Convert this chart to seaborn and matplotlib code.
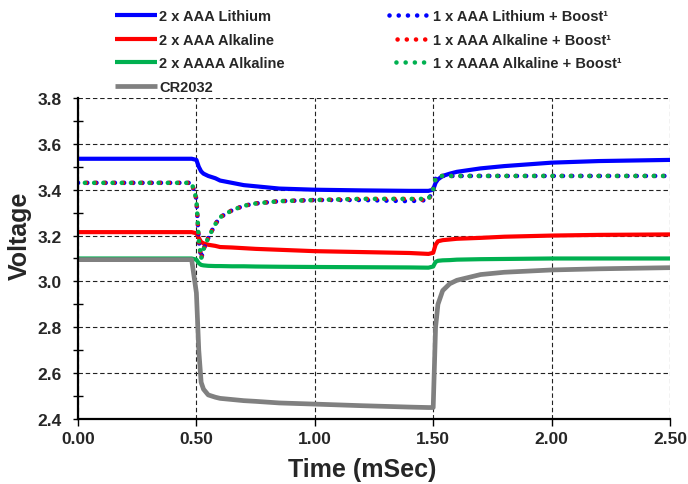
import matplotlib
matplotlib.use("Agg")
import matplotlib.pyplot as plt
from matplotlib.ticker import MultipleLocator, FormatStrFormatter
import seaborn as sns
import pandas as pd

# ---- data ----
time_ms = [0.00, 0.10, 0.20, 0.30, 0.40, 0.48, 0.50, 0.51, 0.52, 0.53, 0.55, 0.58,
           0.60, 0.65, 0.70, 0.75, 0.85, 1.00, 1.20, 1.40, 1.48, 1.50, 1.51, 1.52,
           1.54, 1.57, 1.60, 1.70, 1.80, 2.00, 2.20, 2.50]

aaa_lithium = [3.535, 3.535, 3.535, 3.535, 3.535, 3.535, 3.53, 3.50, 3.48, 3.47, 3.46, 3.45,
               3.44, 3.43, 3.42, 3.415, 3.405, 3.40, 3.397, 3.395, 3.395, 3.40, 3.43, 3.445,
               3.46, 3.47, 3.478, 3.493, 3.503, 3.518, 3.525, 3.53]

aaa_alkaline = [3.215, 3.215, 3.215, 3.215, 3.215, 3.215, 3.21, 3.19, 3.172, 3.166, 3.16, 3.155,
                3.15, 3.148, 3.145, 3.142, 3.138, 3.132, 3.128, 3.124, 3.12, 3.125, 3.16, 3.175,
                3.18, 3.183, 3.186, 3.19, 3.195, 3.20, 3.203, 3.205]

aaaa_alkaline = [3.10, 3.10, 3.10, 3.10, 3.10, 3.10, 3.095, 3.08, 3.072, 3.07, 3.068, 3.067,
                 3.067, 3.066, 3.066, 3.065, 3.064, 3.063, 3.062, 3.061, 3.06, 3.065, 3.085, 3.09,
                 3.092, 3.093, 3.095, 3.097, 3.098, 3.10, 3.10, 3.10]

cr2032 = [3.095, 3.095, 3.095, 3.095, 3.095, 3.095, 2.95, 2.70, 2.56, 2.53, 2.505, 2.495,
          2.49, 2.485, 2.48, 2.477, 2.47, 2.465, 2.458, 2.452, 2.45, 2.45, 2.80, 2.90,
          2.96, 2.99, 3.005, 3.03, 3.04, 3.05, 3.055, 3.06]

boost_aaa_lithium = [3.43, 3.43, 3.43, 3.43, 3.43, 3.43, 3.36, 3.18, 3.10, 3.14, 3.19, 3.25,
                     3.28, 3.31, 3.33, 3.34, 3.35, 3.355, 3.355, 3.35, 3.355, 3.40, 3.45, 3.46,
                     3.46, 3.46, 3.46, 3.46, 3.46, 3.46, 3.46, 3.46]

boost_aaa_alkaline = [3.43, 3.43, 3.43, 3.43, 3.43, 3.43, 3.36, 3.18, 3.10, 3.14, 3.19, 3.25,
                      3.28, 3.31, 3.33, 3.34, 3.35, 3.355, 3.36, 3.36, 3.355, 3.40, 3.45, 3.46,
                      3.46, 3.46, 3.46, 3.46, 3.46, 3.46, 3.46, 3.46]

boost_aaaa_alkaline = [3.43, 3.43, 3.43, 3.43, 3.43, 3.43, 3.36, 3.18, 3.10, 3.14, 3.19, 3.25,
                       3.28, 3.31, 3.33, 3.34, 3.35, 3.355, 3.36, 3.36, 3.36, 3.40, 3.45, 3.46,
                       3.46, 3.46, 3.46, 3.46, 3.46, 3.46, 3.46, 3.46]

labels = ["2 x AAA Lithium", "2 x AAA Alkaline", "2 x AAAA Alkaline", "CR2032",
          "1 x AAA Lithium + Boost\u00b9", "1 x AAA Alkaline + Boost\u00b9",
          "1 x AAAA Alkaline + Boost\u00b9"]
x_ticks = [0.0, 0.5, 1.0, 1.5, 2.0, 2.5]
y_ticks = [2.4, 2.6, 2.8, 3.0, 3.2, 3.4, 3.6, 3.8]

# ---- styling ----
sns.set_style("white")
plt.rcParams["font.family"] = ["Liberation Sans", "DejaVu Sans"]
plt.rcParams["font.weight"] = "bold"

fig = plt.figure(figsize=(6.88, 4.85), dpi=100)
ax = fig.add_axes([78 / 688, 1 - 420 / 485, (670 - 78) / 688, (420 - 99) / 485])

BLUE, RED, GREEN, GRAY = "#0000FF", "#FF0000", "#00B050", "#808080"

DOT = (0.01, 2.0)
series = [
    (aaa_lithium, BLUE, "-", 3.0),
    (aaa_alkaline, RED, "-", 3.0),
    (aaaa_alkaline, GREEN, "-", 3.0),
    (cr2032, GRAY, "-", 3.4),
    (boost_aaa_lithium, BLUE, (0.0, DOT), 3.3),
    (boost_aaa_alkaline, RED, (0.25, DOT), 3.3),
    (boost_aaaa_alkaline, GREEN, (0.5, DOT), 3.3),
]

handles = []
for (vals, col, ls, lw), lab in zip(series, labels):
    df = pd.DataFrame({"t": time_ms, "v": vals})
    sns.lineplot(data=df, x="t", y="v", ax=ax, color=col, linewidth=lw,
                 linestyle=ls, dash_capstyle="round", solid_capstyle="butt",
                 label=lab, legend=False, zorder=3)
    handles.append(ax.lines[-1])

ax.set_xlim(0, 2.5)
ax.set_ylim(2.4, 3.8)
ax.set_xticks(x_ticks)
ax.set_yticks(y_ticks)
ax.xaxis.set_major_formatter(FormatStrFormatter("%.2f"))
ax.yaxis.set_major_formatter(FormatStrFormatter("%.1f"))
ax.yaxis.set_minor_locator(MultipleLocator(0.1))

ax.grid(True, which="major", color="#222222", linewidth=0.8, linestyle=(0, (4, 2.5)))
ax.set_axisbelow(True)

for s in ["top", "right"]:
    ax.spines[s].set_visible(False)
for s in ["left", "bottom"]:
    ax.spines[s].set_color("black")
    ax.spines[s].set_linewidth(1.6)
    ax.spines[s].set_zorder(4)

ax.tick_params(axis="x", which="major", direction="out", length=5, width=1,
               color="black", labelsize=12.5, pad=4, bottom=True)
ax.tick_params(axis="y", which="major", direction="out", length=3.5, width=1,
               color="black", labelsize=12.5, pad=8, left=True)
ax.tick_params(axis="y", which="minor", direction="inout", length=7, width=1,
               color="black", left=True)
for lbl in ax.get_xticklabels() + ax.get_yticklabels():
    lbl.set_fontweight("bold")

ax.set_xlabel("Time (mSec)", fontsize=18, fontweight="bold")
ax.set_ylabel("Voltage", fontsize=18, fontweight="bold")
ax.xaxis.set_label_coords((362.5 - 78) / 592, (420 - 458) / 321)
ax.yaxis.set_label_coords((32 - 78) / 592, (420 - 236) / 321)

fig.legend(handles=handles, labels=labels, ncol=2, loc="upper left",
           bbox_to_anchor=(115 / 688, 1 - 10 / 485), frameon=False,
           prop={"size": 10.5, "weight": "bold"}, borderpad=0, borderaxespad=0,
           handlelength=2.9, handletextpad=0.15, labelspacing=0.66,
           columnspacing=7.1)

fig.savefig("out.png", dpi=100)
